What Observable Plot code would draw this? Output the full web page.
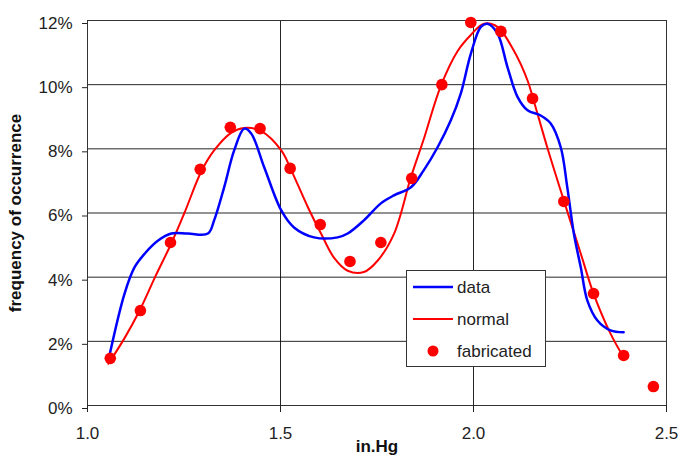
<!DOCTYPE html>
<html>
<head>
<meta charset="utf-8">
<script src="https://cdn.jsdelivr.net/npm/d3@7"></script>
<script src="https://cdn.jsdelivr.net/npm/@observablehq/plot@0.6"></script>
<style>
  html, body { margin: 0; padding: 0; background: #fff; }
  #wrap { position: relative; width: 682px; height: 456px; }
  #wrap svg g[aria-label="x-axis label"] text,
  #wrap svg g[aria-label="y-axis label"] text { font-weight: bold; fill: #111; }
  #legend { position: absolute; left: 406px; top: 270px; width: 138px; height: 95px;
            border: 1px solid #333; background: #fff; }
</style>
</head>
<body>
<div id="wrap"></div>
<script>
// ---- data ----
const xTicks = [1.0, 1.5, 2.0, 2.5];
const yTicks = [0, 2, 4, 6, 8, 10, 12];
const seriesNames = ["data", "normal", "fabricated"];
const seriesColors = ["#0000ff", "#ff0000", "#ff0000"];

const dataX = [1.058,1.096,1.122,1.148,1.183,1.217,1.260,1.312,1.328,1.354,1.380,1.406,1.424,1.458,1.502,1.535,1.587,1.648,1.674,1.716,1.760,1.794,1.838,1.871,1.907,1.941,1.967,1.993,2.019,2.036,2.062,2.088,2.114,2.140,2.174,2.200,2.226,2.243,2.260,2.278,2.295,2.321,2.355,2.389];
const dataY = [1.62,3.49,4.31,4.73,5.14,5.36,5.36,5.36,5.77,6.8,7.95,8.63,8.48,7.42,6.08,5.55,5.24,5.24,5.36,5.77,6.3,6.55,6.8,7.33,8.05,8.88,9.72,10.96,11.8,11.9,11.6,10.55,9.62,9.2,9.04,8.79,8.05,6.8,5.36,4.3,3.27,2.65,2.34,2.28];

const normalX = [1.054,1.096,1.135,1.175,1.217,1.251,1.295,1.328,1.372,1.406,1.450,1.502,1.528,1.571,1.605,1.639,1.674,1.716,1.752,1.794,1.838,1.871,1.915,1.959,1.993,2.027,2.062,2.104,2.140,2.156,2.191,2.234,2.278,2.311,2.355,2.389];
const normalY = [1.3,2.1,2.96,4.0,5.05,6.0,7.3,7.95,8.5,8.65,8.55,7.95,7.33,6.18,5.36,4.6,4.2,4.16,4.52,5.35,7.12,8.3,9.95,11.05,11.55,11.9,11.8,11.07,10.13,9.5,8.05,6.39,4.73,3.49,2.24,1.5];

const fabX = [1.059,1.137,1.215,1.292,1.370,1.447,1.525,1.603,1.680,1.760,1.840,1.918,1.993,2.071,2.153,2.234,2.311,2.389,2.466];
const fabY = [1.47,2.96,5.08,7.36,8.67,8.63,7.39,5.64,4.49,5.08,7.08,10.0,11.94,11.66,9.57,6.36,3.49,1.56,0.59];

const dataRows = dataX.map((x, i) => ({x, y: dataY[i]}));
const normalRows = normalX.map((x, i) => ({x, y: normalY[i]}));
const fabRows = fabX.map((x, i) => ({x, y: fabY[i]}));

const chart = Plot.plot({
  width: 682,
  height: 456,
  marginLeft: 87,
  marginRight: 16,
  marginTop: 20,
  marginBottom: 51,
  style: {fontFamily: "'Liberation Sans', Arial, sans-serif", fontSize: "17px", color: "#222", background: "#fff"},
  x: {domain: [1.0, 2.5]},
  y: {domain: [0, 12]},
  marks: [
    Plot.gridY(yTicks, {stroke: "#000", strokeOpacity: 0.85}),
    Plot.gridX(xTicks, {stroke: "#000", strokeOpacity: 0.85}),
    Plot.frame({stroke: "#333"}),
    Plot.axisY(yTicks, {tickSize: 5, tickPadding: 10, dy: 3, tickFormat: d => d + "%",
      label: "frequency of occurrence", labelAnchor: "center", labelArrow: "none", labelOffset: 79}),
    Plot.axisX(xTicks, {tickSize: 7, tickPadding: 14, tickFormat: d3.format(".1f"),
      label: "in.Hg", labelAnchor: "center", labelArrow: "none", labelOffset: 46}),
    Plot.line(normalRows, {x: "x", y: "y", stroke: seriesColors[1], strokeWidth: 2, curve: "catmull-rom"}),
    Plot.line(dataRows, {x: "x", y: "y", stroke: seriesColors[0], strokeWidth: 2.5, curve: "catmull-rom"}),
    Plot.dot(fabRows, {x: "x", y: "y", r: 5.8, fill: seriesColors[2], stroke: "none"})
  ]
});
const wrap = document.getElementById("wrap");
wrap.appendChild(chart);

// legend overlay
const lg = document.createElement("div");
lg.id = "legend";
const ns = "http://www.w3.org/2000/svg";
const ls = document.createElementNS(ns, "svg");
ls.setAttribute("width", 138); ls.setAttribute("height", 95);
seriesNames.forEach((name, i) => {
  const cy = 16 + i * 32;
  if (i < 2) {
    const ln = document.createElementNS(ns, "line");
    ln.setAttribute("x1", 6); ln.setAttribute("x2", 46);
    ln.setAttribute("y1", cy); ln.setAttribute("y2", cy);
    ln.setAttribute("stroke", seriesColors[i]); ln.setAttribute("stroke-width", i === 0 ? 2.5 : 2);
    ls.appendChild(ln);
  } else {
    const c = document.createElementNS(ns, "circle");
    c.setAttribute("cx", 26); c.setAttribute("cy", cy); c.setAttribute("r", 5.5);
    c.setAttribute("fill", seriesColors[i]);
    ls.appendChild(c);
  }
  const t = document.createElementNS(ns, "text");
  t.setAttribute("x", 50); t.setAttribute("y", cy);
  t.setAttribute("dy", "0.35em");
  t.setAttribute("font-family", "'Liberation Sans', Arial, sans-serif");
  t.setAttribute("font-size", "17px");
  t.setAttribute("fill", "#222");
  t.textContent = name;
  ls.appendChild(t);
});
lg.appendChild(ls);
wrap.appendChild(lg);
</script>
</body>
</html>
